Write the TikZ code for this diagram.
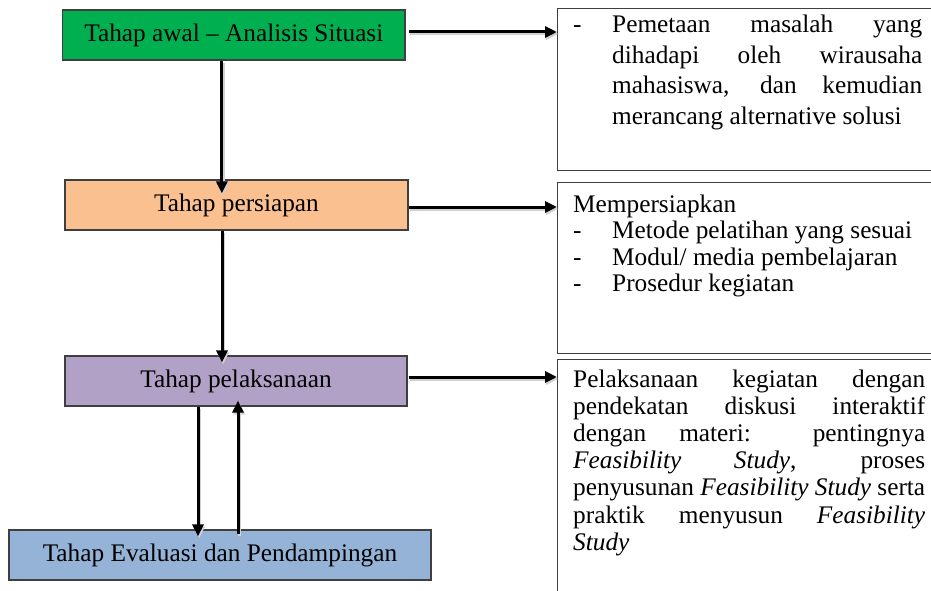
\documentclass[tikz,border=0pt]{standalone}
\usepackage{fontspec}
\setmainfont{Liberation Serif}
\usetikzlibrary{arrows.meta}
\definecolor{cgreen}{HTML}{00B050}
\definecolor{corange}{HTML}{FAC090}
\definecolor{cpurple}{HTML}{B2A1C7}
\definecolor{cblue}{HTML}{95B3D7}
\definecolor{cborder}{HTML}{3F3F3F}
\begin{document}
\begin{tikzpicture}[x=1pt,y=-1pt,
  box/.style={draw=cborder, line width=1.2pt, inner sep=0pt, minimum height=50pt,
    font=\fontsize{25.3}{27}\selectfont},
  rbox/.style={draw=cborder, line width=1.2pt, inner sep=0pt, anchor=north west, minimum width=400pt},
  txt/.style={anchor=base west, inner sep=0pt, font=\fontsize{25.3}{27}\selectfont},
  arr/.style={line width=3pt, -{Triangle[length=12pt,width=11pt]},
    preaction={draw=black!18, line width=3pt, transform canvas={shift={(1.2pt,-2pt)}}}},
]
\useasboundingbox (0,0) rectangle (931,591);
\clip (0,0) rectangle (931,591);

% left boxes
\node[box, fill=cgreen, minimum width=342.3pt] (g) at (233.85,35) {Tahap awal -- Analisis Situasi};
\node[box, fill=corange, minimum width=343pt] (o) at (236.5,205) {Tahap persiapan};
\node[box, fill=cpurple, minimum width=342pt] (p) at (236,381) {Tahap pelaksanaan};
\node[box, fill=cblue, minimum width=422pt] (b) at (220,555) {Tahap Evaluasi dan Pendampingan};

% right boxes
\node[rbox, minimum height=162pt] (r1) at (557,8) {};
\node[rbox, minimum height=171pt] (r2) at (557,182) {};
\node[rbox, minimum height=260pt] (r3) at (557,359) {};

% right box 1 text
\node[txt] (d11) at (573,33) {-};
\node[txt] (l11) at (612,33) {\makebox[310pt][s]{Pemetaan masalah yang}};
\node[txt] (l12) at (612,63.5) {\makebox[310pt][s]{dihadapi oleh wirausaha}};
\node[txt] (l13) at (612,94) {\makebox[310pt][s]{mahasiswa, dan kemudian}};
\node[txt] (l14) at (612,124.5) {merancang alternative solusi};

% right box 2 text
\node[txt] (l21) at (573,212) {Mempersiapkan};
\node[txt] (d22) at (573,238.5) {-};
\node[txt] (l22) at (612,238.5) {Metode pelatihan yang sesuai};
\node[txt] (d23) at (573,265) {-};
\node[txt] (l23) at (612,265) {Modul/ media pembelajaran};
\node[txt] (d24) at (573,291) {-};
\node[txt] (l24) at (612,291) {Prosedur kegiatan};

% right box 3 text
\node[txt] (l31) at (573,387) {\makebox[352pt][s]{Pelaksanaan kegiatan dengan}};
\node[txt] (l32) at (573,414.2) {\makebox[352pt][s]{pendekatan diskusi interaktif}};
\node[txt] (l33) at (573,441.4) {\makebox[352pt][s]{dengan materi: pentingnya}};
\node[txt] (l34) at (573,468.6) {\makebox[352pt][s]{\textit{Feasibility} \textit{Study}, proses}};
\node[txt] (l35) at (573,495.8) {\makebox[352pt][s]{penyusunan \textit{Feasibility Study} serta}};
\node[txt] (l36) at (573,523) {\makebox[352pt][s]{praktik menyusun \textit{Feasibility}}};
\node[txt] (l37) at (573,550.2) {\textit{Study}};

% horizontal arrows
\coordinate (h1) at ([xshift=3pt,yshift=3pt]g.east);
\coordinate (h2) at ([yshift=-2pt]o.east);
\coordinate (h3) at ([xshift=1pt,yshift=4pt]p.east);
\draw[arr] (h1) -- (h1 -| r1.west);
\draw[arr] (h2) -- (h2 -| r2.west);
\draw[arr] (h3) -- (h3 -| r3.west);

% vertical arrows
\coordinate (v1) at ([xshift=-12pt]g.south);
\path (v1 |- o.north) ++(0,14) coordinate (t1);
\draw[arr] (v1) -- (t1);
\coordinate (v2) at ([xshift=-14.5pt]o.south);
\path (v2 |- p.north) ++(0,7) coordinate (t2);
\draw[arr] (v2) -- (t2);
\coordinate (v3) at ([xshift=-38pt]p.south);
\path (v3 |- b.north) ++(0,7) coordinate (t3);
\draw[arr] (v3) -- (t3);
\path ([xshift=2pt]p.south) ++(0,-6) coordinate (t4);
\path (t4 |- b.north) ++(0,5) coordinate (v4);
\draw[arr] (v4) -- (t4);
\end{tikzpicture}
\end{document}
